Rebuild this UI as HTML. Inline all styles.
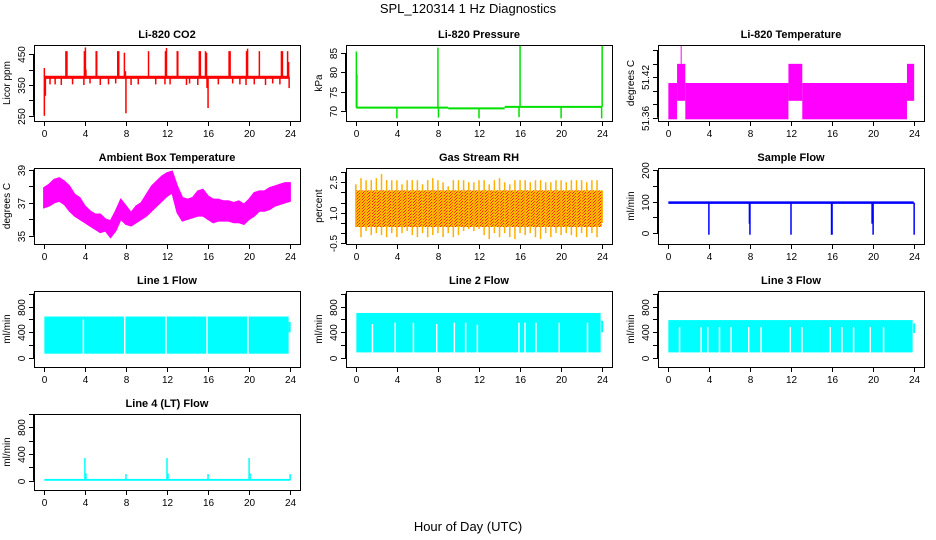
<!DOCTYPE html>
<html><head><meta charset="utf-8"><style>
body{margin:0;background:#fff;}
svg{display:block;font-family:"Liberation Sans",Arial,sans-serif;}
</style></head><body>
<svg id="chart" width="936" height="540" viewBox="0 0 936 540" xmlns="http://www.w3.org/2000/svg">
<defs>
<pattern id="rhpat" width="3" height="3" patternUnits="userSpaceOnUse">
<rect width="3" height="3" fill="#ffc000"/><rect x="0" y="0" width="1" height="1" fill="#ff2000"/><rect x="2" y="1" width="1" height="1" fill="#ff2000"/><rect x="1" y="2" width="1" height="1" fill="#ff4000"/>
</pattern>
</defs>
<text x="468" y="13" text-anchor="middle" font-size="13">SPL_120314  1 Hz Diagnostics</text>
<text x="468" y="531" text-anchor="middle" font-size="13">Hour of Day (UTC)</text>
</svg>
<script>
// ---- data ----
var xTicks = [0,4,8,12,16,20,24];
// CO2
var co2Base = [370, 380];
var co2SpikeTimes = [0.05,2.15,2.25,3.95,4.05,4.1,5.1,5.15,7.2,7.3,7.85,7.95,10.2,11.85,11.95,13.0,13.05,15.15,15.25,15.75,15.85,18.05,18.15,19.75,19.85,21.0,23.15,23.25,23.75,23.85,0.05,0.15,8.0,15.9,16.0,23.9,0.6,1.1,1.7,2.8,3.9,4.5,5.5,6.3,7.0,8.5,9.2,10.9,11.8,12.3,13.9,14.2,15.0,17.0,18.4,19.1,19.7,20.5,21.6,22.3,23.0];
var co2SpikeValues = [405,460,460,460,472,400,460,460,460,460,455,395,460,460,470,460,460,460,460,460,455,460,460,460,468,460,460,460,460,425,250,315,258,340,275,340,352,352,350,352,350,355,350,352,355,350,352,352,352,352,350,355,350,352,355,352,350,352,350,355,352];
// Pressure
var pressSegStart = [0.05, 9.0, 14.5];
var pressSegEnd = [9.0, 14.5, 23.95];
var pressSegValue = [70.8, 70.6, 71.0];
var pressSpikeTimes = [0.05,0.1,4.0,8.0,8.05,12.0,15.9,16.0,20.0,23.95,24.0];
var pressSpikeValues = [85.5,79.5,68.0,86.5,68.2,68.0,68.3,87.0,68.0,68.0,87.0];
// Li-820 temperature
var tempSegStart = [0.05,0.9,1.7,11.75,13.1,23.3];
var tempSegEnd = [0.9,1.7,11.75,13.1,23.3,24.0];
var tempSegHigh = [51.4115,51.44,51.4115,51.44,51.4115,51.44];
var tempSegLow = [51.3575,51.385,51.3575,51.385,51.3575,51.385];
var tempSpikeTime = [1.3];
var tempSpikeValue = [51.468];
// Ambient box temperature (half-hourly envelope)
var ambTimes = [0,0.5,1,1.5,2,2.5,3,3.5,4,4.5,5,5.5,6,6.5,7,7.5,8,8.5,9,9.5,10,10.5,11,11.5,12,12.5,13,13.5,14,14.5,15,15.5,16,16.5,17,17.5,18,18.5,19,19.5,20,20.5,21,21.5,22,22.5,23,23.5,24];
var ambHigh = [37.9,38.1,38.4,38.5,38.3,38.0,37.5,37.3,36.8,36.5,36.3,36.3,36.0,35.9,36.5,37.2,36.8,36.4,36.8,37.0,37.5,38.0,38.3,38.6,38.8,38.9,38.0,37.3,37.2,37.3,37.7,37.8,37.4,37.2,37.2,37.1,37.1,37.0,37.1,36.9,37.2,37.6,37.7,37.7,37.9,38.0,38.1,38.2,38.2];
var ambLow = [36.7,36.8,37.0,37.1,36.9,36.5,36.2,36.0,35.8,35.6,35.4,35.2,35.3,34.9,35.3,36.0,35.7,35.6,35.8,36.0,36.2,36.5,36.8,37.1,37.4,37.6,36.4,35.9,36.0,36.1,36.2,36.2,36.0,35.8,35.9,35.9,35.9,35.8,35.8,35.7,36.0,36.2,36.5,36.5,36.6,36.8,36.9,37.0,37.1];
// Gas stream RH
var rhCore = [0.3, 2.1];
var rhHigh = [2.4,2.7,2.6,2.6,2.7,2.9,2.6,2.6,2.6,2.4,2.6,2.6,2.6,2.4,2.6,2.7,2.6,2.5,2.3,2.6,2.6,2.6,2.5,2.5,2.6,2.6,2.4,2.6,2.7,2.5,2.4,2.6,2.6,2.6,2.5,2.6,2.6,2.5,2.5,2.6,2.6,2.5,2.6,2.6,2.6,2.5,2.6,2.6,2.1];
var rhLow = [0.3,-0.2,0.1,-0.1,0.0,-0.1,-0.2,0.0,-0.2,0.0,0.1,-0.1,-0.2,0.0,-0.2,-0.1,0.0,-0.2,0.0,-0.2,-0.1,0.1,0.2,0.1,0.2,-0.1,-0.3,0.0,-0.2,0.0,-0.2,-0.3,0.0,-0.1,0.0,-0.2,-0.3,0.0,-0.2,0.0,-0.1,0.0,-0.1,-0.2,0.0,-0.2,0.0,-0.2,0.5];
// Sample flow
var sampleBase = [93, 101];
var sampleDropTimes = [4.0,7.95,8.0,12.0,15.95,16.0,19.9,20.0,24.0];
var sampleDropValues = [-5,30,-5,-5,-5,-5,30,-5,-5];
// Line 1/2/3 flow
var line1Band = [70, 645];
var line1GapTimes = [3.85,7.88,11.9,15.9,19.88];
var line1GapTop = [600,645,645,645,645];
var line2Band = [90, 700];
var line2GapTimes = [1.62,3.83,5.61,7.88,9.6,10.7,11.84,15.89,16.48,17.55,19.82,22.57];
var line2GapTop = [530,550,550,530,550,550,520,550,550,550,550,550];
var line3Band = [90, 590];
var line3GapTimes = [1.14,3.24,3.89,5.03,6.16,7.88,9.08,11.93,13.07,15.82,16.96,18.1,19.72,21.02];
var line3GapTop = [480,480,480,480,480,480,480,480,480,480,480,480,480,480];
var lineEndTimes = [23.95, 24.0, 24.0];
var lineEndLow = [400, 400, 390];
var lineEndHigh = [560, 580, 540];
// Line 4 flow
var line4Base = [0, 28];
var line4SpikeTimes = [4.0,4.1,8.0,12.0,12.1,16.0,20.0,20.1,24.0];
var line4SpikeValues = [340,110,100,340,110,100,340,110,100];

// ---- layout ----
var NS = "http://www.w3.org/2000/svg";
var svg = document.getElementById('chart');
var W = 266, H = 76;
var colLeft = [34, 346, 658];
var rowTop = [45, 168, 291, 414];

function mk(tag, attrs, parent) {
  var e = document.createElementNS(NS, tag);
  for (var k in attrs) e.setAttribute(k, attrs[k]);
  (parent || svg).appendChild(e);
  return e;
}

function makePanel(col, row, title, ylab, ymin, ymax, yticks, ylabels) {
  var L = colLeft[col], T = rowTop[row];
  var g = mk('g', {});
  
  
  var p = { g: g, L: L, T: T };
  p.x = function (t) { return L + W * 0.037 + t / 24 * W * 0.926; };
  p.y = function (v) { return T + (ymax - v) / (ymax - ymin) * H; };
  var plot = mk('g', {}, g);
  
  
  p.plot = plot;
  var tt = mk('text', { x: L + W / 2, y: T - 7, 'text-anchor': 'middle', 'font-size': 11, 'font-weight': 'bold' }, g);
  
  
  tt.textContent = title;
  var xa = mk('g', {}, g);
  
  
  mk('line', { x1: p.x(0), x2: p.x(24), y1: T + H + 0.5, y2: T + H + 0.5, stroke: '#000' }, xa);
  xTicks.forEach(function (t) {
    var X = Math.round(p.x(t)) + 0.5;
    mk('line', { x1: X, x2: X, y1: T + H, y2: T + H + 5, stroke: '#000' }, xa);
    var lb = mk('text', { x: X, y: T + H + 16, 'text-anchor': 'middle', 'font-size': 10 }, xa);
    
    
    lb.textContent = t;
  });
  var ya = mk('g', {}, g);
  
  
  mk('line', { x1: L - 0.5, x2: L - 0.5, y1: p.y(yticks[0]), y2: p.y(yticks[yticks.length - 1]), stroke: '#000' }, ya);
  yticks.forEach(function (v, i) {
    var Y = Math.round(p.y(v)) + 0.5;
    mk('line', { x1: L - 5, x2: L, y1: Y, y2: Y, stroke: '#000' }, ya);
    if (ylabels[i] !== '') {
      var lb = mk('text', { x: L - 9, y: Y, 'text-anchor': 'middle', 'font-size': 10, transform: 'rotate(-90 ' + (L - 9) + ' ' + Y + ')' }, ya);
      
      
      lb.textContent = ylabels[i];
    }
  });
  var yt = mk('text', { x: L - 24, y: T + H / 2, 'text-anchor': 'middle', 'font-size': 10, transform: 'rotate(-90 ' + (L - 24) + ' ' + (T + H / 2) + ')' }, g);
  
  
  yt.textContent = ylab;
  p.finish = function () {
    var b = mk('rect', { x: L + 0.5, y: T + 0.5, width: W, height: H, fill: 'none', stroke: '#000' }, g);
    
    
  };
  return p;
}

function vline(p, t, v1, v2, color, w, name) {
  var X = p.x(t);
  var l = mk('line', { x1: X, x2: X, y1: p.y(v1), y2: p.y(v2), stroke: color, 'stroke-width': w || 1 }, p.plot);
  
  
  return l;
}
function band(p, t1, t2, v1, v2, fill, name) {
  var r = mk('rect', { x: p.x(t1), y: p.y(v2), width: p.x(t2) - p.x(t1), height: p.y(v1) - p.y(v2), fill: fill }, p.plot);
  
  
  return r;
}

// CO2
var p = makePanel(0, 0, 'Li-820 CO2', 'Licor ppm', 233, 480, [250,300,350,400,450], ['250','','350','','450']);
band(p, 0.05, 23.95, co2Base[0], co2Base[1], '#ff0000', 'co2-baseline');
co2SpikeTimes.forEach(function (t, i) { vline(p, t, 375, co2SpikeValues[i], '#ff0000', 1.5, 'co2-spike'); });
p.finish();

// Pressure
p = makePanel(1, 0, 'Li-820 Pressure', 'kPa', 67.3, 87.2, [70,75,80,85], ['70','75','80','85']);
pressSegStart.forEach(function (s, i) {
  var Y = p.y(pressSegValue[i]);
  var l = mk('line', { x1: p.x(s), x2: p.x(pressSegEnd[i]), y1: Y, y2: Y, stroke: '#00e000', 'stroke-width': 2 }, p.plot);
  
  
});
pressSpikeTimes.forEach(function (t, i) {
  var base = pressSegValue[t < 9 ? 0 : (t < 14.5 ? 1 : 2)];
  vline(p, t, base, pressSpikeValues[i], '#00e000', 1.5, 'pressure-spike');
});
p.finish();

// Li-820 temperature
p = makePanel(2, 0, 'Li-820 Temperature', 'degrees C', 51.355, 51.468, [51.36,51.38,51.40,51.42,51.44,51.46], ['51.36','','','51.42','','']);
tempSegStart.forEach(function (s, i) { band(p, s, tempSegEnd[i], tempSegLow[i], tempSegHigh[i], '#ff00ff', 'temperature-segment'); });
tempSpikeTime.forEach(function (t, i) { vline(p, t, 51.44, tempSpikeValue[i], '#ff00ff', 1, 'temperature-spike'); });
p.finish();

// Ambient
p = makePanel(0, 1, 'Ambient Box Temperature', 'degrees C', 34.5, 39.1, [35,36,37,38,39], ['35','','37','','39']);
var pts = [];
ambTimes.forEach(function (t, i) { pts.push(p.x(t) + ',' + p.y(ambHigh[i])); });
for (var i = ambTimes.length - 1; i >= 0; i--) pts.push(p.x(ambTimes[i]) + ',' + p.y(ambLow[i]));
var amb = mk('polygon', { points: pts.join(' '), fill: '#ff00ff', stroke: '#ff00ff', 'stroke-width': 1.5 }, p.plot);


p.finish();

// RH
p = makePanel(1, 1, 'Gas Stream RH', 'percent', -0.535, 3.2, [-0.5,0,0.5,1,1.5,2,2.5,3], ['-0.5','','','1.0','','','2.5','']);
band(p, 0.05, 23.95, rhCore[0], rhCore[1], 'url(#rhpat)', 'rh-core-band');
rhHigh.forEach(function (v, i) {
  var t = ambTimes[i];
  vline(p, t, rhLow[i], v, '#ffb000', 1.5, 'rh-range');
});
p.finish();

// Sample flow
p = makePanel(2, 1, 'Sample Flow', 'ml/min', -34.5, 207, [0,50,100,150,200], ['0','','100','','200']);
band(p, 0.05, 23.95, sampleBase[0], sampleBase[1], '#0000ff', 'sample-flow-baseline');
sampleDropTimes.forEach(function (t, i) { vline(p, t, 97, sampleDropValues[i], '#0000ff', 1.5, 'sample-flow-drop'); });
p.finish();

// Lines 1-3
var yT = [0,200,400,600,800,1000], yL = ['0','','400','','800',''];
[[line1Band, line1GapTimes, line1GapTop, 'Line 1 Flow'], [line2Band, line2GapTimes, line2GapTop, 'Line 2 Flow'], [line3Band, line3GapTimes, line3GapTop, 'Line 3 Flow']].forEach(function (d, c) {
  var pp = makePanel(c, 2, d[3], 'ml/min', -136, 1040, yT, yL);
  band(pp, 0.05, 23.85, d[0][0], d[0][1], '#00ffff', 'flow-band');
  d[1].forEach(function (t, i) { vline(pp, t, d[0][0] - 5, d[2][i], '#ffffff', 1.5, 'flow-gap'); });
  vline(pp, lineEndTimes[c], lineEndLow[c], lineEndHigh[c], '#00ffff', 2, 'flow-end');
  pp.finish();
});

// Line 4
p = makePanel(0, 3, 'Line 4 (LT) Flow', 'ml/min', -138, 1000, yT, yL);
band(p, 0.05, 24, line4Base[0], line4Base[1], '#00ffff', 'line4-baseline');
line4SpikeTimes.forEach(function (t, i) { vline(p, t, 10, line4SpikeValues[i], '#00ffff', 1.5, 'line4-spike'); });
p.finish();
</script>
</body></html>
